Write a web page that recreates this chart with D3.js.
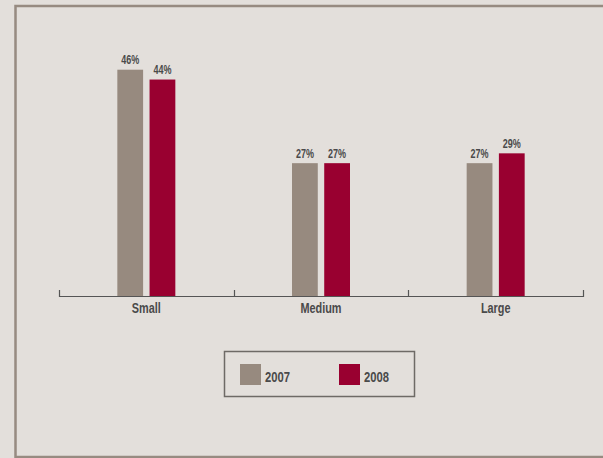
<!DOCTYPE html>
<html>
<head>
<meta charset="utf-8">
<script src="https://cdn.jsdelivr.net/npm/d3@7"></script>
<style>
  html, body { margin: 0; padding: 0; background: #e3dfdb; }
  svg { display: block; }
  text { font-family: "Liberation Sans", Arial, sans-serif; fill: #4a4a4a; }
</style>
</head>
<body>
<svg id="chart" width="603" height="458"></svg>
<script>
// Share of companies by size, 2007 vs 2008
const categories = ["Small", "Medium", "Large"];
const years = ["2007", "2008"];
const values2007 = [46, 27, 27];
const values2008 = [44, 27, 29];
const seriesColors = ["#978a7f", "#990030"];

const W = 603, H = 458;
const NARROW = 0.75; // horizontal squeeze for a condensed look
const svg = d3.select("#chart");

// places condensed text at (x, y)
function narrowText(sel, x, y) {
  return sel.append("g").attr("transform", `translate(${x},${y}) scale(${NARROW},1)`).append("text");
}

// background and frame
svg.append("rect").attr("width", W).attr("height", H).attr("fill", "#e3dfdb");
svg.append("rect")
  .attr("x", 15.5).attr("y", 6).attr("width", W + 20).attr("height", 451)
  .attr("fill", "none").attr("stroke", "#978b81").attr("stroke-width", 2.5);

const x = d3.scaleBand().domain(categories).range([59, 583]);
const xs = d3.scaleBand().domain(years).range([0, 58]).paddingInner(0.2);
const y = d3.scaleLinear().domain([0, 46]).range([296, 69.7]);

const data = categories.map((c, i) => ({ cat: c, vals: [values2007[i], values2008[i]] }));

const groups = svg.append("g").selectAll("g").data(data).join("g")
  .attr("transform", d => `translate(${x(d.cat) + x.bandwidth() / 2 - 29},0)`);

groups.selectAll("rect").data(d => d.vals.map((v, j) => ({ v, yr: years[j], j }))).join("rect")
  .attr("x", d => xs(d.yr))
  .attr("y", d => y(d.v))
  .attr("width", xs.bandwidth())
  .attr("height", d => y(0) - y(d.v))
  .attr("fill", d => seriesColors[d.j]);

groups.each(function (d) {
  const g = d3.select(this);
  d.vals.forEach((v, j) => {
    narrowText(g, xs(years[j]) + xs.bandwidth() / 2, y(v) - 5.5)
      .attr("text-anchor", "middle")
      .attr("font-size", "12px")
      .attr("font-weight", "bold")
      .attr("fill", "#555")
      .text(v + "%");
  });
});

// x axis: baseline with upward ticks at band edges
const axisG = svg.append("g");
axisG.append("line")
  .attr("x1", 59).attr("x2", 583).attr("y1", 296.5).attr("y2", 296.5)
  .attr("stroke", "#555").attr("stroke-width", 1.2);
const tickPos = categories.map(c => x(c)).concat([x(categories[categories.length - 1]) + x.bandwidth()]);
axisG.selectAll("line.tick").data(tickPos).join("line")
  .attr("class", "tick")
  .attr("x1", d => Math.round(d) + 0.5).attr("x2", d => Math.round(d) + 0.5)
  .attr("y1", 290).attr("y2", 297)
  .attr("stroke", "#555").attr("stroke-width", 1.2);
categories.forEach(c => {
  narrowText(axisG, x(c) + x.bandwidth() / 2, 312.5)
    .attr("text-anchor", "middle")
    .attr("font-size", "14.5px")
    .attr("font-weight", "bold")
    .text(c);
});

// legend
const leg = svg.append("g");
leg.append("rect")
  .attr("x", 224.5).attr("y", 351.5).attr("width", 190).attr("height", 45)
  .attr("fill", "none").attr("stroke", "#6e6a66").attr("stroke-width", 1.5);
const legX = [240, 339];
years.forEach((yr, i) => {
  leg.append("rect").attr("x", legX[i]).attr("y", 364).attr("width", 21).attr("height", 21)
    .attr("fill", seriesColors[i]);
  narrowText(leg, legX[i] + 25, 381.5)
    .attr("font-size", "15px").attr("font-weight", "bold").text(yr);
});
</script>
</body>
</html>
